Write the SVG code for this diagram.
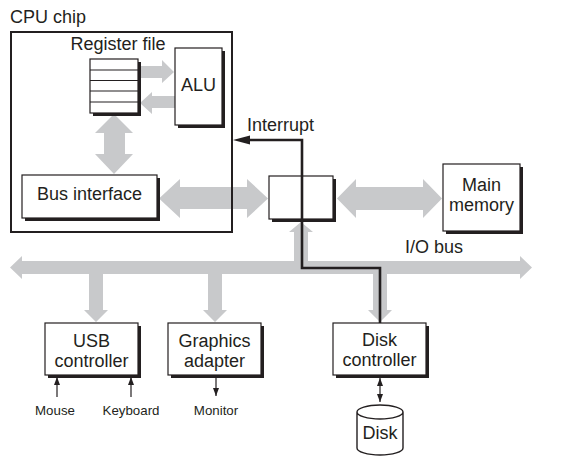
<svg xmlns="http://www.w3.org/2000/svg" width="562" height="465" viewBox="0 0 562 465">
<defs>
<style>
text{font-family:"Liberation Sans",Arial,sans-serif;fill:#231f20}
.lbl{font-size:18px}
.sm{font-size:13.3px}
.mid{text-anchor:middle}
.box{fill:#fff;stroke:#231f20;stroke-width:1.2}
.sh{fill:#231f20}
.bus{fill:#c8c9cb}
.wire{fill:none;stroke:#231f20;stroke-width:2.6}
.thin{fill:none;stroke:#231f20;stroke-width:1.2}
.ah{fill:#231f20}
</style>
<marker id="sa" viewBox="0 0 8 8" refX="8" refY="4" markerWidth="8" markerHeight="8" markerUnits="userSpaceOnUse" orient="auto-start-reverse">
<path d="M0,1 L8,4 L0,7 Z" class="ah"/>
</marker>
</defs>
<rect width="562" height="465" fill="#fff"/>

<g id="connectors">
<!-- register -> ALU -->
<polygon class="bus" points="138,66 162,66 162,60 174,72 162,83 162,78 138,78"/>
<!-- ALU -> register -->
<polygon class="bus" points="175,96 152,96 152,92 140,103 152,114 152,108 175,108"/>
<!-- register <-> bus interface -->
<polygon class="bus" points="114,114 133,133 125,133 125,154 133,154 114,174 95,154 104,154 104,133 95,133"/>
<!-- bus interface <-> bridge -->
<polygon class="bus" points="159,198.5 180,179 180,187 247,187 247,179 268,198.5 247,218 247,209 180,209 180,218"/>
<!-- bridge <-> main memory -->
<polygon class="bus" points="337,198.5 356,179 356,187 423,187 423,179 442,198.5 423,218 423,210 356,210 356,218"/>
<!-- I/O bus -->
<polygon class="bus" points="10,267.5 22,256 22,261 520,261 520,256 532,267.5 520,279 520,274 22,274 22,279"/>
<!-- bus -> bridge -->
<polygon class="bus" points="301,222 313,232 308,232 308,262 294,262 294,232 289,232"/>
<!-- bus -> USB -->
<polygon class="bus" points="89,273 103,273 103,310 108,310 96,322 84,310 89,310"/>
<!-- bus -> graphics -->
<polygon class="bus" points="208,273 222,273 222,310 227,310 215,322 203,310 208,310"/>
<!-- bus -> disk controller -->
<polygon class="bus" points="373,273 387,273 387,310 392,310 380,322 368,310 373,310"/>
</g>

<g id="cpu-chip">
<rect x="11" y="32" width="221" height="200" fill="none" stroke="#231f20" stroke-width="2"/>
<text class="lbl" x="10" y="23">CPU chip</text>
</g>

<g id="register-file">
<rect class="sh" x="93" y="62" width="48" height="54"/>
<rect class="box" x="90" y="59" width="48" height="54"/>
<path class="thin" d="M90,70H138M90,80.5H138M90,91H138M90,102H138"/>
<text class="lbl mid" x="118" y="50">Register file</text>
</g>

<g id="alu">
<rect class="sh" x="178" y="51" width="47" height="77"/>
<rect class="box" x="175" y="48" width="47" height="77"/>
<text class="lbl mid" x="198.5" y="91">ALU</text>
</g>

<g id="bus-interface">
<rect class="sh" x="25" y="178" width="135" height="43"/>
<rect class="box" x="22" y="175" width="135" height="43"/>
<text class="lbl mid" x="89.5" y="200">Bus interface</text>
</g>

<g id="io-bridge">
<rect class="sh" x="272" y="179" width="64" height="43"/>
<rect class="box" x="269" y="176" width="64" height="43"/>
</g>

<g id="main-memory">
<rect class="sh" x="446" y="167" width="77" height="67"/>
<rect class="box" x="443" y="164" width="77" height="67"/>
<text class="lbl mid" x="481.5" y="191">Main</text>
<text class="lbl mid" x="481.5" y="211">memory</text>
</g>

<g id="interrupt">
<path class="wire" d="M380,323V268H302V140H248"/>
<polygon class="ah" points="233,140 250,135.5 250,144.5"/>
<text class="lbl" x="247" y="131">Interrupt</text>
</g>

<text class="lbl" x="405" y="253">I/O bus</text>

<g id="usb-controller">
<rect class="sh" x="48" y="326" width="93" height="52"/>
<rect class="box" x="45" y="323" width="93" height="52"/>
<text class="lbl mid" x="91.5" y="347">USB</text>
<text class="lbl mid" x="91.5" y="367">controller</text>
<line class="thin" x1="57" y1="397" x2="57" y2="377" marker-end="url(#sa)"/>
<line class="thin" x1="131" y1="397" x2="131" y2="377" marker-end="url(#sa)"/>
<text class="sm mid" x="55" y="415">Mouse</text>
<text class="sm mid" x="131" y="415">Keyboard</text>
</g>

<g id="graphics-adapter">
<rect class="sh" x="171" y="326" width="93" height="52"/>
<rect class="box" x="168" y="323" width="93" height="52"/>
<text class="lbl mid" x="214.5" y="347">Graphics</text>
<text class="lbl mid" x="214.5" y="367">adapter</text>
<line class="thin" x1="216" y1="376" x2="216" y2="396" marker-end="url(#sa)"/>
<text class="sm mid" x="216" y="415">Monitor</text>
</g>

<g id="disk-controller">
<rect class="sh" x="336" y="326" width="93" height="52"/>
<rect class="box" x="333" y="323" width="93" height="52"/>
<text class="lbl mid" x="379.5" y="346">Disk</text>
<text class="lbl mid" x="379.5" y="366">controller</text>
<line class="thin" x1="380" y1="378" x2="380" y2="402" marker-start="url(#sa)" marker-end="url(#sa)"/>
</g>

<g id="disk">
<path d="M357,412V448A23,7 0 0 0 403,448V412A23,7 0 0 0 357,412A23,7 0 0 0 403,412" fill="#fff" stroke="#231f20" stroke-width="1.4"/>
<text class="lbl mid" x="380" y="439">Disk</text>
</g>
</svg>
